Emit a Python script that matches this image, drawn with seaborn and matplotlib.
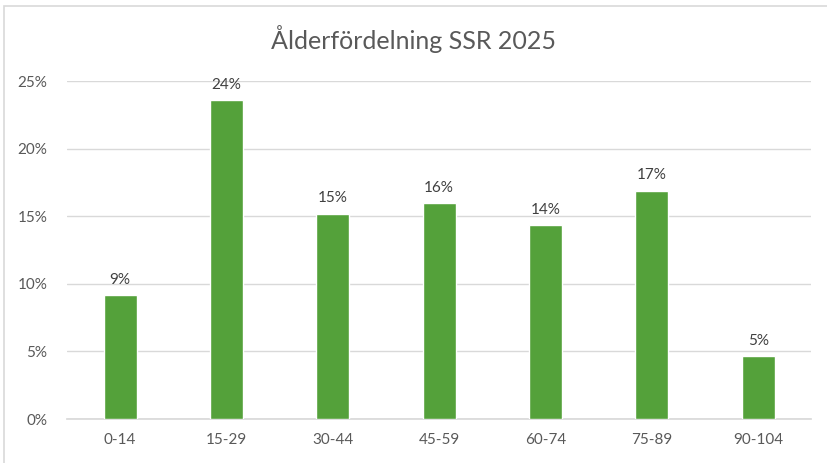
import matplotlib
matplotlib.use("Agg")
import matplotlib.pyplot as plt
import matplotlib.patches as mpatches
import seaborn as sns
import pandas as pd
from matplotlib.ticker import PercentFormatter

age_groups = ["0-14", "15-29", "30-44", "45-59", "60-74", "75-89", "90-104"]
shares = [0.0917, 0.236, 0.152, 0.160, 0.1435, 0.169, 0.0466]
yticks = [0, 0.05, 0.10, 0.15, 0.20, 0.25]

df = pd.DataFrame({"Åldersgrupp": age_groups, "Andel": shares})

sns.set_theme(style="white")
plt.rcParams["font.family"] = ["Lato", "DejaVu Sans"]

fig = plt.figure(figsize=(8.27, 4.63), dpi=100)
ax = fig.add_axes([0.081, 0.095, 0.9, 0.73])

sns.barplot(data=df, x="Åldersgrupp", y="Andel", color="#54A13A",
            width=0.31, saturation=1, ax=ax, zorder=3)

ax.set_ylim(0, 0.25)
ax.set_yticks(yticks)
ax.yaxis.set_major_formatter(PercentFormatter(1.0, decimals=0))
ax.grid(axis="y", color="#d9d9d9", linewidth=1, zorder=0)
ax.set_xlabel("")
ax.set_ylabel("")
for s in ["top", "right", "left"]:
    ax.spines[s].set_visible(False)
ax.spines["bottom"].set_color("#d9d9d9")
ax.tick_params(axis="both", colors="#595959", labelsize=11, length=0)
ax.tick_params(axis="x", pad=10)
ax.tick_params(axis="y", pad=14)

for i, v in enumerate(shares):
    ax.text(i, v + 0.006, f"{v * 100:.0f}%", ha="center", va="bottom",
            fontsize=11, color="#404040")

fig.text(0.5, 0.915, "Ålderfördelning SSR 2025", ha="center", va="center",
         fontsize=18, color="#595959")

fig.patches.append(mpatches.Rectangle((0.005, -0.1), 1.1, 1.087,
                                      transform=fig.transFigure, fill=False,
                                      edgecolor="#d9d9d9", linewidth=1.2))

fig.savefig("out.png", dpi=100)
